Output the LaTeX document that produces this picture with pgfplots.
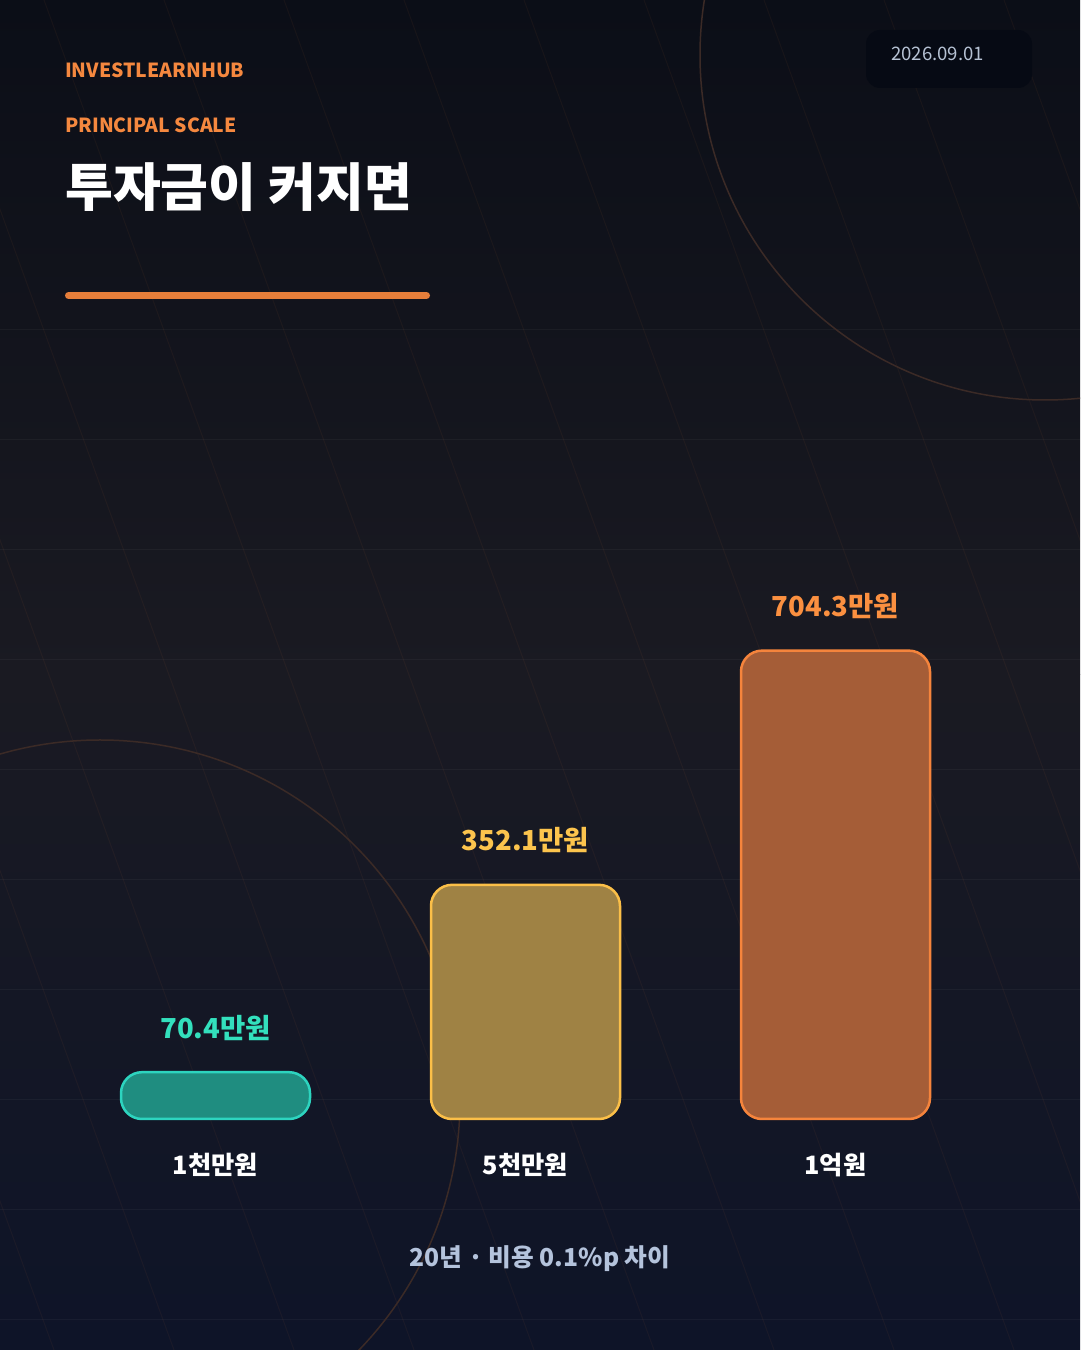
\documentclass[border=0pt]{standalone}
\usepackage{pgfplots}
\pgfplotsset{compat=1.18}
\usepackage{fontspec}
\setmainfont{Noto Sans CJK KR}

\definecolor{bgtop}{HTML}{0B0E17}
\definecolor{bgmid}{HTML}{1A1A22}
\definecolor{bgbot}{HTML}{0E1428}
\definecolor{accent}{HTML}{F5883F}
\definecolor{rule}{HTML}{E67E3A}
\definecolor{datebox}{HTML}{060A14}
\definecolor{datetxt}{HTML}{B6C2D4}
\definecolor{ring}{HTML}{3B2A26}
\definecolor{tealline}{HTML}{2DD4BF}
\definecolor{tealfill}{HTML}{1F8D80}
\definecolor{tealtxt}{HTML}{33E0BD}
\definecolor{yelline}{HTML}{FBBF48}
\definecolor{yelfill}{HTML}{9F8244}
\definecolor{yeltxt}{HTML}{FCC44D}
\definecolor{orgline}{HTML}{F5843C}
\definecolor{orgfill}{HTML}{A55D37}
\definecolor{orgtxt}{HTML}{FB9040}
\definecolor{captxt}{HTML}{B4C3DC}

\begin{document}
\begin{tikzpicture}[x=1pt,y=1pt]
  \useasboundingbox (0,0) rectangle (1080,1350);
  % background
  \shade[top color=bgtop, bottom color=bgmid] (0,675) rectangle (1080,1350);
  \shade[top color=bgmid, bottom color=bgbot] (0,0) rectangle (1080,675);
  \begin{scope}
    \clip (0,0) rectangle (1080,1350);
    \foreach \y in {330,440,...,1350}
      \draw[white, opacity=0.04, line width=1pt] (0,1350-\y) -- (1080,1350-\y);
    \foreach \k in {-5,...,9}
      \draw[accent, opacity=0.05, line width=1pt] (44+120*\k,1350) -- (44+120*\k+490,0);
    \draw[ring, line width=1.5pt] (1045,1295) circle (345);
    \draw[ring, line width=1.5pt] (100,250) circle (360);
  \end{scope}

  % header
  \node[anchor=base west, inner sep=0, text=accent, font=\bfseries\fontsize{19.4}{24}\selectfont] at (65,1272) {INVESTLEARNHUB};
  \node[anchor=base west, inner sep=0, text=accent, font=\bfseries\fontsize{19.4}{24}\selectfont] at (65,1217) {PRINCIPAL SCALE};
  \node[anchor=base west, inner sep=0, text=white, font=\bfseries\fontsize{52}{60}\selectfont] at (65,1143) {투자금이 커지면};
  \draw[rule, line width=7pt, line cap=round] (68.5,1054.5) -- (426.5,1054.5);
  \fill[datebox, rounded corners=14pt] (866,1262) rectangle (1032,1320);
  \node[anchor=base west, inner sep=0, text=datetxt, font=\fontsize{18.6}{22}\selectfont] at (891,1289) {2026.09.01};

  \begin{axis}[
    at={(0pt,231pt)}, anchor=origin,
    x=1pt, y=0.665pt,
    xmin=0, xmax=1080, ymin=0, ymax=1000,
    axis line style={draw=none},
    major tick length=0pt,
    ytick=\empty,
    xtick={215.5,525.5,835.5},
    xticklabels={1천만원,5천만원,1억원},
    xticklabel style={anchor=base, yshift=-56pt, text=white,
      font=\bfseries\fontsize{25.3}{30}\selectfont},
    clip=false,
    every node near coord/.append style={anchor=base, yshift=34pt,
      font=\bfseries\fontsize{27.5}{32}\selectfont},
  ]
    \addplot[ybar, bar width=189pt, bar shift=0pt, draw=tealline, fill=tealfill,
      line width=2.5pt, rounded corners=21pt,
      nodes near coords={\pgfmathprintnumber[fixed,fixed zerofill,precision=1,assume math mode=true]{\pgfplotspointmeta}만원},
      nodes near coords style={text=tealtxt}]
      coordinates {(215.5,70.4)};
    \addplot[ybar, bar width=189pt, bar shift=0pt, draw=yelline, fill=yelfill,
      line width=2.5pt, rounded corners=21pt,
      nodes near coords={\pgfmathprintnumber[fixed,fixed zerofill,precision=1,assume math mode=true]{\pgfplotspointmeta}만원},
      nodes near coords style={text=yeltxt}]
      coordinates {(525.5,352.1)};
    \addplot[ybar, bar width=189pt, bar shift=0pt, draw=orgline, fill=orgfill,
      line width=2.5pt, rounded corners=21pt,
      nodes near coords={\pgfmathprintnumber[fixed,fixed zerofill,precision=1,assume math mode=true]{\pgfplotspointmeta}만원},
      nodes near coords style={text=orgtxt}]
      coordinates {(835.5,704.3)};
  \end{axis}

  \node[anchor=base, inner sep=0, text=captxt, font=\bfseries\fontsize{24.7}{28}\selectfont] at (540,83) {20년 · 비용 0.1\%p 차이};
\end{tikzpicture}
\end{document}
